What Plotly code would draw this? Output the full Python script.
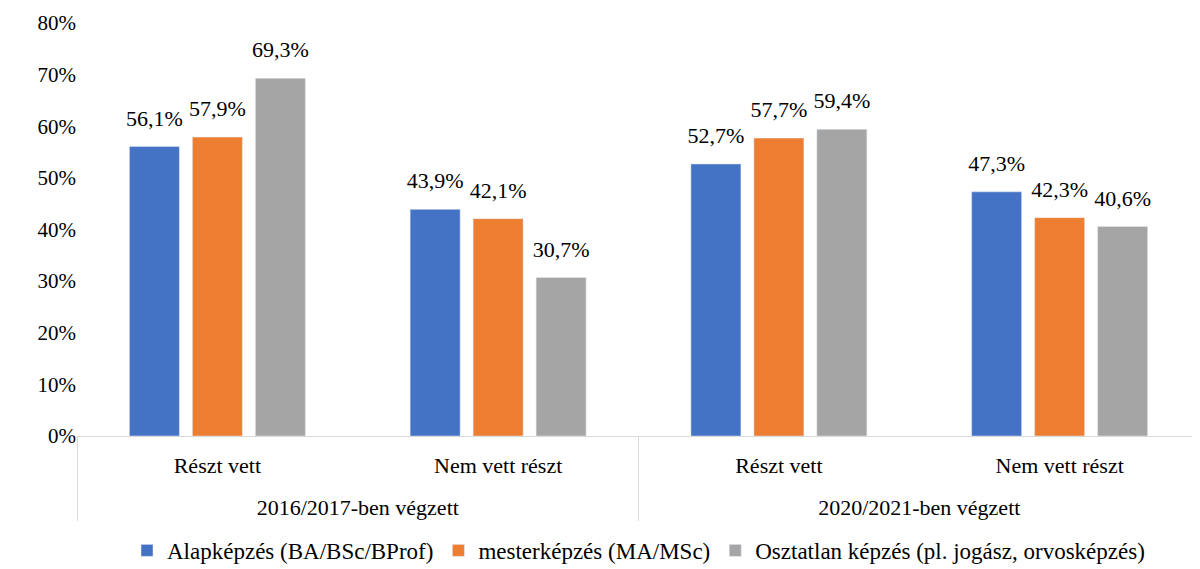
import plotly.graph_objects as go

groups = ["2016/2017-ben végzett", "2016/2017-ben végzett", "2020/2021-ben végzett", "2020/2021-ben végzett"]
subcats = ["Részt vett", "Nem vett részt", "Részt vett", "Nem vett részt"]
series_names = ["Alapképzés (BA/BSc/BProf)", "mesterképzés (MA/MSc)", "Osztatlan képzés (pl. jogász, orvosképzés)"]
alap = [56.1, 43.9, 52.7, 47.3]
mester = [57.9, 42.1, 57.7, 42.3]
osztatlan = [69.3, 30.7, 59.4, 40.6]
colors = ["#4472C4", "#ED7D31", "#A5A5A5"]
yticks = [0, 10, 20, 30, 40, 50, 60, 70, 80]

font = "'Liberation Serif', 'Times New Roman', serif"
sub_labels = [s + "<br><span style='font-size:4px'> </span>" for s in subcats]

fig = go.Figure()
for i, (name, vals, c) in enumerate(zip(series_names, [alap, mester, osztatlan], colors)):
    fig.add_trace(go.Bar(
        x=[groups, sub_labels], y=vals, name=name, marker_color=c,
        offsetgroup=str(i),
    ))
for i, vals in enumerate([alap, mester, osztatlan]):
    fig.add_trace(go.Scatter(
        x=[groups, sub_labels], y=vals, mode="markers+text", showlegend=False,
        texttemplate="%{y:.1f}%", textposition="top center",
        textfont=dict(size=22, color="black", family=font),
        marker=dict(size=23, color="rgba(0,0,0,0)"), offsetgroup=str(i),
        cliponaxis=False, hoverinfo="skip",
    ))

fig.update_layout(
    width=1192, height=561,
    margin=dict(l=69, r=0, t=15, b=133, autoexpand=False),
    plot_bgcolor="white", paper_bgcolor="white",
    barmode="group", bargap=0.327, bargroupgap=0.206,
    scattermode="group", scattergap=0.327,
    separators=", ",
    font=dict(family=font, size=21, color="black"),
    legend=dict(orientation="h", x=0.5, xanchor="center", y=-0.225, yanchor="top",
                font=dict(size=23, family=font), itemwidth=30, traceorder="normal"),
    showlegend=True,
)
fig.update_xaxes(type="multicategory", showline=True, linecolor="#D9D9D9", linewidth=1,
                 showdividers=True, dividercolor="#D9D9D9", dividerwidth=1,
                 tickfont=dict(size=22, family=font), showgrid=False,
                 ticks="", ticklabelstandoff=10, automargin=False)
fig.update_yaxes(range=[0, 80], tickvals=yticks, ticktext=[f"{v}%" for v in yticks],
                 showgrid=False, zeroline=False, showline=False,
                 tickfont=dict(size=21, family=font), automargin=False)
fig.write_html("out.html")
